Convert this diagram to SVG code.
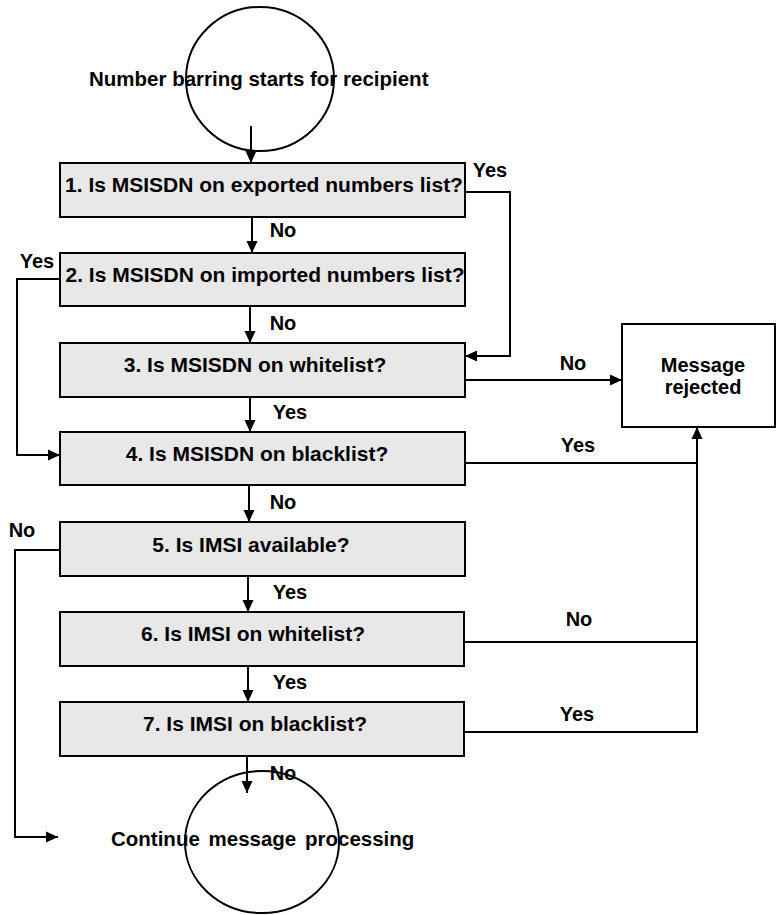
<svg xmlns="http://www.w3.org/2000/svg" width="776" height="915" viewBox="0 0 776 915">
  <style>
    .bg { fill: #ffffff; }
    .box { fill: #e8e8e8; stroke: #000; stroke-width: 2; }
    .plain { fill: #ffffff; stroke: #000; stroke-width: 2; }
    .term { fill: none; stroke: #000; stroke-width: 2; }
    .wire { fill: none; stroke: #000; stroke-width: 2; }
    text { font-family: "Liberation Sans", Arial, Helvetica, sans-serif; font-weight: bold; fill: #000; }
    .q { font-size: 21px; text-anchor: middle; }
    .lbl { font-size: 20px; text-anchor: middle; }
    .term-t { font-size: 20.5px; }
  </style>
  <defs>
    <marker id="arrow" viewBox="0 0 12 12" refX="12" refY="6" markerWidth="12" markerHeight="12" markerUnits="userSpaceOnUse" orient="auto">
      <path d="M0,0.5 L12,6 L0,11.5 z" fill="#000"/>
    </marker>
  </defs>
  <rect class="bg" x="0" y="0" width="776" height="915"/>

  <!-- start terminal -->
  <g id="start">
    <ellipse class="term" cx="260" cy="79" rx="74" ry="72"/>
    <text class="term-t" x="89" y="86">Number barring starts for recipient</text>
  </g>

  <!-- decision boxes -->
  <g id="q1">
    <rect class="box" x="60" y="163" width="405" height="54"/>
    <text class="q" x="264" y="192">1. Is MSISDN on exported numbers list?</text>
  </g>
  <g id="q2">
    <rect class="box" x="60" y="253" width="405" height="53"/>
    <text class="q" x="265" y="282">2. Is MSISDN on imported numbers list?</text>
  </g>
  <g id="q3">
    <rect class="box" x="60" y="343" width="405" height="54"/>
    <text class="q" x="255" y="372">3. Is MSISDN on whitelist?</text>
  </g>
  <g id="q4">
    <rect class="box" x="60" y="432" width="405" height="53"/>
    <text class="q" x="257" y="461">4. Is MSISDN on blacklist?</text>
  </g>
  <g id="q5">
    <rect class="box" x="60" y="522" width="405" height="54"/>
    <text class="q" x="251" y="552">5. Is IMSI available?</text>
  </g>
  <g id="q6">
    <rect class="box" x="60" y="612" width="404" height="54"/>
    <text class="q" x="253" y="641">6. Is IMSI on whitelist?</text>
  </g>
  <g id="q7">
    <rect class="box" x="60" y="702" width="404" height="54"/>
    <text class="q" x="255" y="731">7. Is IMSI on blacklist?</text>
  </g>

  <!-- rejection outcome -->
  <g id="rejected">
    <rect class="plain" x="622" y="324" width="153" height="103"/>
    <text class="lbl" x="703" y="372">Message</text>
    <text class="lbl" x="703" y="394">rejected</text>
  </g>

  <!-- end terminal -->
  <g id="end">
    <ellipse class="term" cx="262" cy="842" rx="77" ry="71"/>
    <text class="term-t" x="111" y="846" word-spacing="3">Continue message processing</text>
  </g>

  <!-- connectors -->
  <g id="connectors">
    <path class="wire" d="M251,126 L251,163" marker-end="url(#arrow)"/>
    <path class="wire" d="M252,217 L252,253" marker-end="url(#arrow)"/>
    <path class="wire" d="M250,306 L250,343" marker-end="url(#arrow)"/>
    <path class="wire" d="M250,397 L250,432" marker-end="url(#arrow)"/>
    <path class="wire" d="M249,485 L249,522" marker-end="url(#arrow)"/>
    <path class="wire" d="M248,576 L248,612" marker-end="url(#arrow)"/>
    <path class="wire" d="M248,666 L248,702" marker-end="url(#arrow)"/>
    <path class="wire" d="M247,756 L247,793" marker-end="url(#arrow)"/>

    <!-- 1 yes: to 3 -->
    <path class="wire" d="M465,192 L510,192 L510,356 L465,356" marker-end="url(#arrow)"/>
    <!-- 2 yes: to 4 -->
    <path class="wire" d="M60,279 L17,279 L17,455 L60,455" marker-end="url(#arrow)"/>
    <!-- 3 no: rejected -->
    <path class="wire" d="M465,380 L622,380" marker-end="url(#arrow)"/>
    <!-- 4 yes / 6 no / 7 yes: rejected -->
    <path class="wire" d="M465,463 L697,463"/>
    <path class="wire" d="M465,642 L697,642"/>
    <path class="wire" d="M465,732 L697,732 L697,427" marker-end="url(#arrow)"/>
    <!-- 5 no: continue -->
    <path class="wire" d="M60,550 L15,550 L15,837 L58,837" marker-end="url(#arrow)"/>

    <!-- branch labels -->
    <text class="lbl" x="490" y="177">Yes</text>
    <text class="lbl" x="283" y="237">No</text>
    <text class="lbl" x="37" y="268">Yes</text>
    <text class="lbl" x="283" y="330">No</text>
    <text class="lbl" x="573" y="370">No</text>
    <text class="lbl" x="290" y="419">Yes</text>
    <text class="lbl" x="578" y="452">Yes</text>
    <text class="lbl" x="283" y="509">No</text>
    <text class="lbl" x="22" y="537">No</text>
    <text class="lbl" x="290" y="599">Yes</text>
    <text class="lbl" x="579" y="626">No</text>
    <text class="lbl" x="290" y="689">Yes</text>
    <text class="lbl" x="577" y="721">Yes</text>
    <text class="lbl" x="283" y="780">No</text>
  </g>
</svg>
